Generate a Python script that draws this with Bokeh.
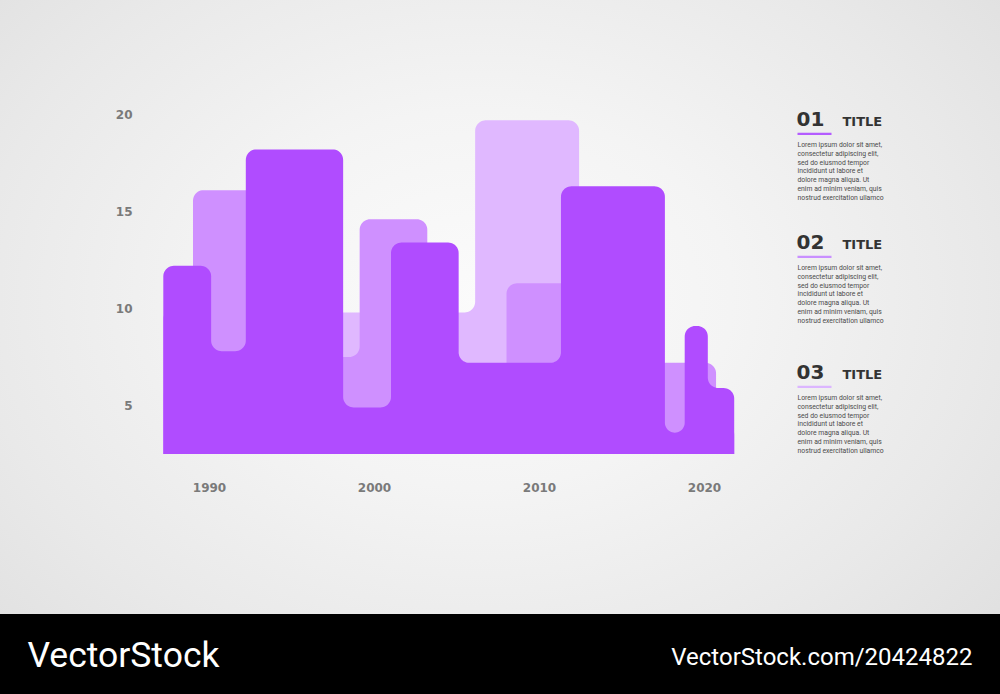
import numpy as np
from bokeh.plotting import figure
from bokeh.models import FixedTicker, Range1d, LinearAxis, GlobalInlineStyleSheet
from bokeh.core.properties import value
from bokeh.embed import file_html
from bokeh.resources import INLINE

# ---------------- data ----------------
year_ticks = [1990, 2000, 2010, 2020]
value_ticks = [5, 10, 15, 20]
baseline = 2.5

# three overlapping step series (edges in years, one level per step)
light_edges = [1987.2, 1995.5, 2006.1, 2012.4, 2021.8]
light_values = [6.0, 9.8, 19.7, 4.0]

medium_edges = [1987.2, 1989.0, 1995.5, 1999.1, 2003.2, 2008.0, 2013.7, 2020.7, 2021.8]
medium_values = [10.0, 16.1, 7.5, 14.6, 5.0, 11.3, 7.2, 4.0]

dark_edges = [1987.2, 1990.1, 1992.2, 1998.1, 2001.0, 2005.1, 2011.3, 2017.6, 2018.8, 2020.2, 2021.8]
dark_values = [12.2, 7.8, 18.2, 4.9, 13.4, 7.2, 16.3, 3.6, 9.1, 5.9]

section_numbers = ["01", "02", "03"]
section_title = "TITLE"
body_lines = [
    "Lorem ipsum dolor sit amet,",
    "consectetur adipiscing elit,",
    "sed do eiusmod tempor",
    "incididunt ut labore et",
    "dolore magna aliqua. Ut",
    "enim ad minim veniam, quis",
    "nostrud exercitation ullamco",
]
watermark_left = "VectorStock"
watermark_right = "VectorStock.com/20424822"

# ---------------- layout (page pixels -> data) ----------------
KX, KY = 16.5, 19.4          # pixels per year / per unit
X_PX0, X_YR0, Y_PX0 = 209.0, 1990.0, 502.0
OFF = 0                      # page offset of the figure

def to_x(px):
    return X_YR0 + (px - X_PX0) / KX

def to_y(py):
    return (Y_PX0 - py) / KY

W, H = 984, 678
p = figure(width=W, height=H, output_backend="svg", toolbar_location=None,
           x_range=Range1d(to_x(OFF), to_x(OFF + W)), y_range=Range1d(to_y(OFF + H), to_y(OFF)),
           min_border=0, x_axis_location=None, y_axis_location=None)
p.grid.visible = False
p.outline_line_color = None
p.background_fill_alpha = 0
p.border_fill_alpha = 0

p.stylesheets = [GlobalInlineStyleSheet(css="""
html { min-height: 100%; background-color: #e4e4e4;
  background-image: linear-gradient(to bottom, rgba(0,0,0,0) 614px, #000 614px),
    radial-gradient(ellipse 72% 78% at 48% 43%, #fbfbfb 0%, #f4f4f4 35%, #e9e9e9 70%, #dedede 100%);
  background-repeat: no-repeat; background-size: 1000px 694px; }
body { background: transparent; }
""")]


def rounded_step(edges, vals, base, r=10.5):
    pts = [(edges[0], base), (edges[0], vals[0])]
    for i in range(len(vals) - 1):
        pts.append((edges[i + 1], vals[i]))
        pts.append((edges[i + 1], vals[i + 1]))
    pts.append((edges[-1], vals[-1]))
    pts.append((edges[-1], base))
    P = np.array([(x * KX, y * KY) for x, y in pts])
    out = []
    n = len(P)
    for i in range(n):
        pt = P[i]
        if i == 0 or i == n - 1:
            out.append(pt)
            continue
        u1 = P[i - 1] - pt
        u2 = P[i + 1] - pt
        l1, l2 = np.linalg.norm(u1), np.linalg.norm(u2)
        rr = min(r, l1 / 2, l2 / 2)
        u1, u2 = u1 / l1, u2 / l2
        c = pt + rr * (u1 + u2)
        for t in np.linspace(0, np.pi / 2, 12):
            out.append(c - rr * (np.cos(t) * u2 + np.sin(t) * u1))
    out = np.array(out)
    return list(out[:, 0] / KX), list(out[:, 1] / KY)


layers = [
    (light_edges, light_values, "#e0b8ff"),
    (medium_edges, medium_values, "#cf90ff"),
    (dark_edges, dark_values, "#b04cff"),
]
for edges, vals, col in layers:
    xs, ys = rounded_step(edges, vals, baseline)
    p.patch(xs, ys, fill_color=col, line_color=None)

# axes
xa = LinearAxis(ticker=FixedTicker(ticks=year_ticks), fixed_location=to_y(470))
ya = LinearAxis(ticker=FixedTicker(ticks=value_ticks), fixed_location=to_x(137))
for ax in (xa, ya):
    ax.axis_line_color = None
    ax.major_tick_line_color = None
    ax.minor_tick_line_color = None
    ax.major_tick_out = 0
    ax.major_tick_in = 0
    ax.major_label_text_font = "DejaVu Sans"
    ax.major_label_text_font_style = "bold"
    ax.major_label_text_font_size = "12px"
    ax.major_label_text_color = "#7a7a7a"
xa.major_label_standoff = 12
ya.major_label_standoff = 5
p.add_layout(xa, "below")
p.add_layout(ya, "left")

# right side text blocks
sec_center = [118.5, 241.5, 371.5]
underline_colors = ["#b45cff", "#c990ff", "#dcb6ff"]
body_font = value("Roboto")
for num, cy, ucol in zip(section_numbers, sec_center, underline_colors):
    p.text(x=[to_x(796)], y=[to_y(cy)], text=[num], text_font=value("DejaVu Sans"),
           text_font_style="bold", text_font_size="20px", text_color="#333333",
           text_baseline="middle", text_align="left")
    p.text(x=[to_x(842)], y=[to_y(cy + 2.3)], text=[section_title], text_font=value("DejaVu Sans"),
           text_font_style="bold", text_font_size="13px", text_color="#333333",
           text_baseline="middle", text_align="left")
    p.segment(x0=[to_x(797)], y0=[to_y(cy + 14.8)], x1=[to_x(831)], y1=[to_y(cy + 14.8)],
              line_color=ucol, line_width=2.2)
    ys = [to_y(cy + 26.3 + 8.7 * k) for k in range(len(body_lines))]
    p.text(x=[to_x(797)] * len(body_lines), y=ys, text=body_lines, text_font=body_font,
           text_font_size="6.8px", text_color="#4a4a4a", text_baseline="middle", text_align="left")

# watermark band texts
p.text(x=[to_x(27)], y=[to_y(654)], text=[watermark_left], text_font=body_font,
       text_font_size="35.5px", text_color="#ffffff", text_baseline="middle", text_align="left")
p.text(x=[to_x(972)], y=[to_y(656)], text=[watermark_right], text_font=body_font,
       text_font_size="24px", text_color="#ffffff", text_baseline="middle", text_align="right")

open("out.html", "w").write(file_html(p, INLINE))
